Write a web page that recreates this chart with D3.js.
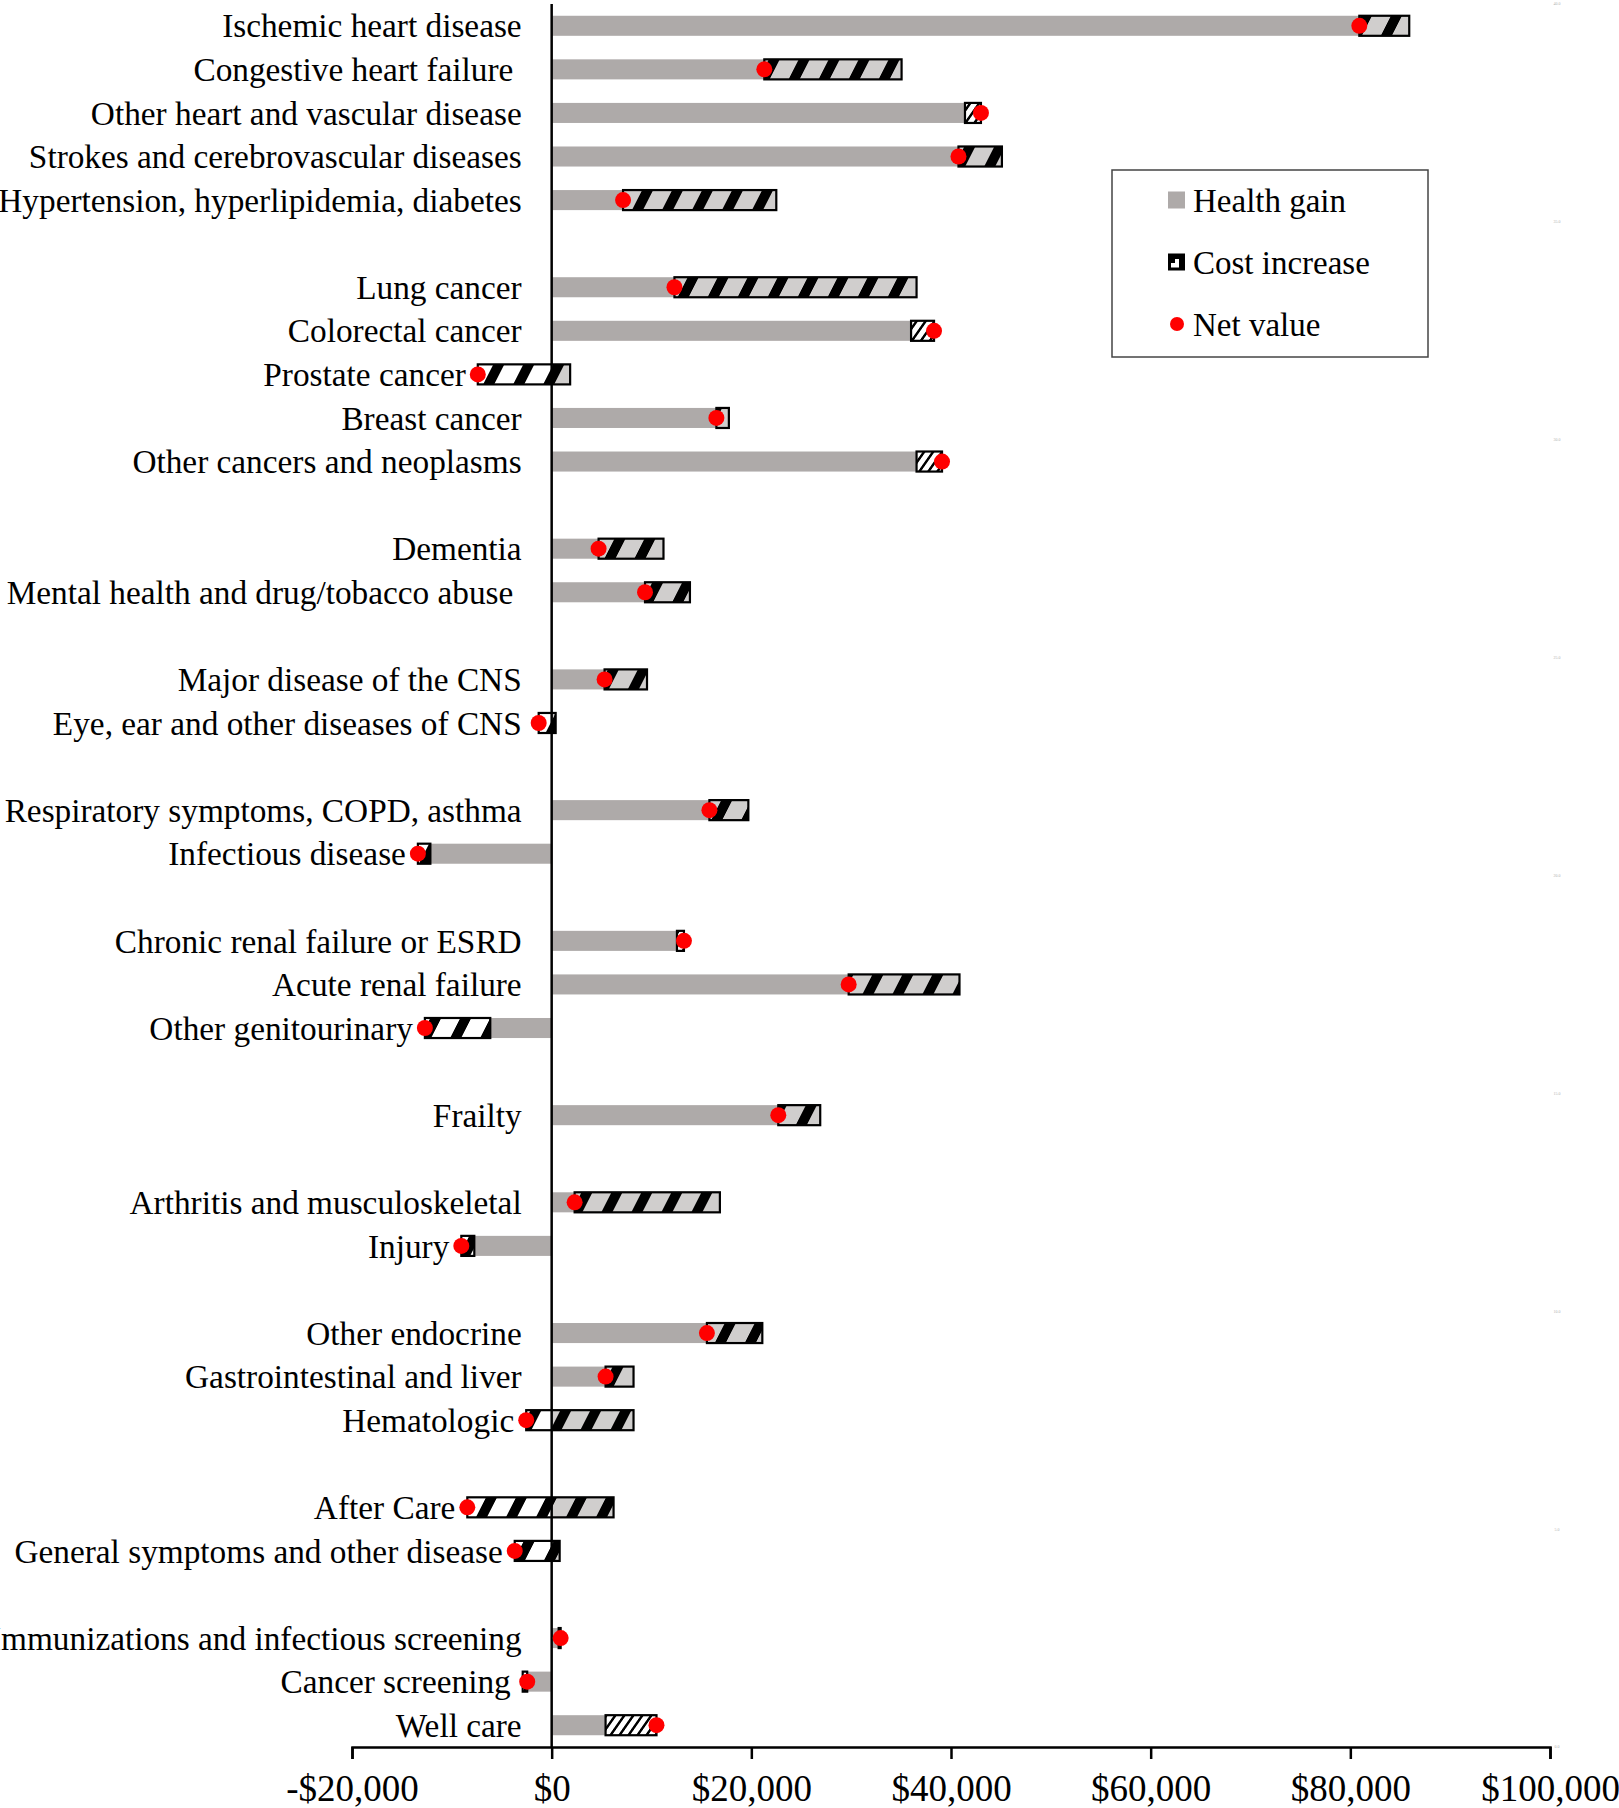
<!DOCTYPE html>
<html>
<head>
<meta charset="utf-8">
<script src="https://cdn.jsdelivr.net/npm/d3@7/dist/d3.min.js"></script>
<style>
  body { margin: 0; background: #fff; }
  svg { display: block; font-family: "Liberation Serif", "Times New Roman", serif; }
  .cat { white-space: pre; }
</style>
</head>
<body>
<script>
// categories, top to bottom; a blank row separates the groups
var categories = [
    "Ischemic heart disease", "Congestive heart failure ", "Other heart and vascular disease",
    "Strokes and cerebrovascular diseases", "Hypertension, hyperlipidemia, diabetes",
    "Lung cancer", "Colorectal cancer", "Prostate cancer", "Breast cancer", "Other cancers and neoplasms",
    "Dementia", "Mental health and drug/tobacco abuse ",
    "Major disease of the CNS", "Eye, ear and other diseases of CNS",
    "Respiratory symptoms, COPD, asthma", "Infectious disease",
    "Chronic renal failure or ESRD", "Acute renal failure", "Other genitourinary",
    "Frailty",
    "Arthritis and musculoskeletal", "Injury",
    "Other endocrine", "Gastrointestinal and liver", "Hematologic",
    "After Care", "General symptoms and other disease",
    "Immunizations and infectious screening", "Cancer screening", "Well care"
];
var groupSizes = [5, 5, 2, 2, 2, 3, 1, 2, 3, 2, 3];

var healthGain = [
    85900, 35050, 41400, 45100, 22500,
    36550, 36000, 1850, 17750, 36550,
    11200, 13850,
    9550, 400,
    19700, -12150,
    12550, 40850, -6150,
    26900,
    16850, -7750,
    21100, 8200, 8200,
    6200, 800,
    700, -2900, 5400
];
var costIncrease = [
    5000, 13750, -1600, 4350, 15350,
    24250, -2300, 9250, 1250, -2550,
    6500, 4500,
    4250, 1700,
    3900, 1250,
    -700, 11100, 6550,
    4200,
    14550, 1300,
    5550, 2800, 10750,
    14650, 4500,
    -200, -450, -5100
];

var xTicks = [-20000, 0, 20000, 40000, 60000, 80000, 100000];
var legendLabels = ["Health gain", "Cost increase", "Net value"];
var rowTicks = [0, 5, 10, 15, 20, 25, 30, 35, 40];

var width = 1619, height = 1808;
var nSlots = 40;

// slot index of every category (one empty slot after each group)
var slots = [];
var s = 0;
groupSizes.forEach(function(n) {
    for (var k = 0; k < n; k++) slots.push(s++);
    s++;
});

var rows = categories.map(function(name, i) {
    return {
        name: name,
        slot: slots[i],
        h: healthGain[i],
        c: costIncrease[i],
        n: healthGain[i] - costIncrease[i]
    };
});

var x = d3.scaleLinear().domain([-20000, 100000]).range([352, 1550]);
var y = d3.scaleBand().domain(d3.range(nSlots)).range([4, 1747])
    .paddingInner(0.54).paddingOuter(0.27);
var yRow = d3.scaleLinear().domain([0, nSlots]).range([1747, 4]);
var bw = y.bandwidth();

var svg = d3.select("body").append("svg")
    .attr("width", width)
    .attr("height", height);

var defs = svg.append("defs");

// wide diagonal hatch (cost increase)
var pUp = defs.append("pattern")
    .attr("id", "costUp")
    .attr("patternUnits", "userSpaceOnUse")
    .attr("width", 30).attr("height", 30)
    .attr("patternTransform", "skewX(-27)");
pUp.append("rect").attr("width", 30).attr("height", 30)
    .attr("fill", "#fff").attr("fill-opacity", 0.42);
pUp.append("rect").attr("x", 19).attr("width", 11).attr("height", 30).attr("fill", "#000");

// fine diagonal hatch (negative cost increase)
var pDown = defs.append("pattern")
    .attr("id", "costDown")
    .attr("patternUnits", "userSpaceOnUse")
    .attr("width", 9).attr("height", 9)
    .attr("patternTransform", "skewX(-35)");
pDown.append("rect").attr("width", 9).attr("height", 9).attr("fill", "#fff");
pDown.append("rect").attr("x", 6).attr("width", 3).attr("height", 9).attr("fill", "#000");

// category labels (drawn first, the bars sit over them)
svg.append("g").selectAll("text")
    .data(rows)
    .enter().append("text")
    .attr("class", "cat")
    .attr("x", function(d) {
        var lo = Math.min(0, d.h, d.n);
        return Math.min(x(0) - 30, x(lo) - 12);
    })
    .attr("y", function(d) { return y(d.slot) + bw / 2; })
    .attr("dy", "0.35em")
    .attr("text-anchor", "end")
    .style("font-size", "33.3px")
    .text(function(d) { return d.name; });

// health gain bars
svg.append("g").selectAll("rect")
    .data(rows)
    .enter().append("rect")
    .attr("x", function(d) { return x(Math.min(0, d.h)); })
    .attr("y", function(d) { return y(d.slot); })
    .attr("width", function(d) { return Math.abs(x(d.h) - x(0)); })
    .attr("height", bw)
    .attr("fill", "#aeaaa9");

// cost increase, from net value to health gain
svg.append("g").selectAll("rect")
    .data(rows)
    .enter().append("rect")
    .attr("x", function(d) { return x(Math.min(d.h, d.n)); })
    .attr("y", function(d) { return y(d.slot); })
    .attr("width", function(d) { return Math.abs(x(d.h) - x(d.n)); })
    .attr("height", bw)
    .attr("fill", function(d) { return d.c >= 0 ? "url(#costUp)" : "url(#costDown)"; })
    .attr("stroke", "#000")
    .attr("stroke-width", 2.2);

// vertical zero line
svg.append("line")
    .attr("x1", x(0)).attr("x2", x(0))
    .attr("y1", 4).attr("y2", 1747)
    .attr("stroke", "#000")
    .attr("stroke-width", 2.5);

// x axis
var xAxis = d3.axisBottom(x)
    .tickValues(xTicks)
    .tickSize(12)
    .tickSizeOuter(12)
    .tickFormat(function(d) { return (d < 0 ? "-" : "") + "$" + d3.format(",")(Math.abs(d)); });

var gx = svg.append("g")
    .attr("transform", "translate(0,1747)")
    .call(xAxis);
gx.select(".domain").attr("stroke", "#000").attr("stroke-width", 2.5);
gx.selectAll(".tick line").attr("stroke", "#000").attr("stroke-width", 2.5);
gx.selectAll(".tick text")
    .attr("y", 28)
    .attr("fill", "#000")
    .style("font-family", "'Liberation Serif', 'Times New Roman', serif")
    .style("font-size", "37px");

// faint secondary row scale on the right
svg.append("g").selectAll("text")
    .data(rowTicks)
    .enter().append("text")
    .attr("x", 1557)
    .attr("y", function(d) { return yRow(d); })
    .attr("dy", "0.35em")
    .attr("text-anchor", "middle")
    .attr("fill", "#b0b0b0")
    .style("font-size", "4px")
    .text(function(d) { return d3.format(".1f")(d); });

// net value dots
svg.append("g").selectAll("circle")
    .data(rows)
    .enter().append("circle")
    .attr("cx", function(d) { return x(d.n); })
    .attr("cy", function(d) { return y(d.slot) + bw / 2; })
    .attr("r", 8)
    .attr("fill", "#ff0000");

// legend
var legend = svg.append("g").attr("transform", "translate(1112,170)");
legend.append("rect")
    .attr("width", 316).attr("height", 187)
    .attr("fill", "#fff")
    .attr("stroke", "#444")
    .attr("stroke-width", 1.5);

var item = legend.selectAll(".item")
    .data(legendLabels)
    .enter().append("g")
    .attr("class", "item")
    .attr("transform", function(d, i) { return "translate(0," + (30 + i * 62) + ")"; });

item.filter(function(d, i) { return i === 0; }).append("rect")
    .attr("x", 56).attr("y", -8.5).attr("width", 17).attr("height", 17)
    .attr("fill", "#aeaaa9");
var costKey = item.filter(function(d, i) { return i === 1; });
costKey.append("rect")
    .attr("x", 56).attr("y", -8.5).attr("width", 17).attr("height", 17)
    .attr("fill", "#000");
costKey.append("path")
    .attr("d", "M59,5.5 L59,1 L63,1 L63,-3 L67,-3 L67,5.5 Z")
    .attr("fill", "#fff");
item.filter(function(d, i) { return i === 2; }).append("circle")
    .attr("cx", 65).attr("cy", 0).attr("r", 7)
    .attr("fill", "#ff0000");

item.append("text")
    .attr("x", 81)
    .attr("dy", "0.35em")
    .style("font-size", "33px")
    .text(function(d) { return d; });
</script>
</body>
</html>
